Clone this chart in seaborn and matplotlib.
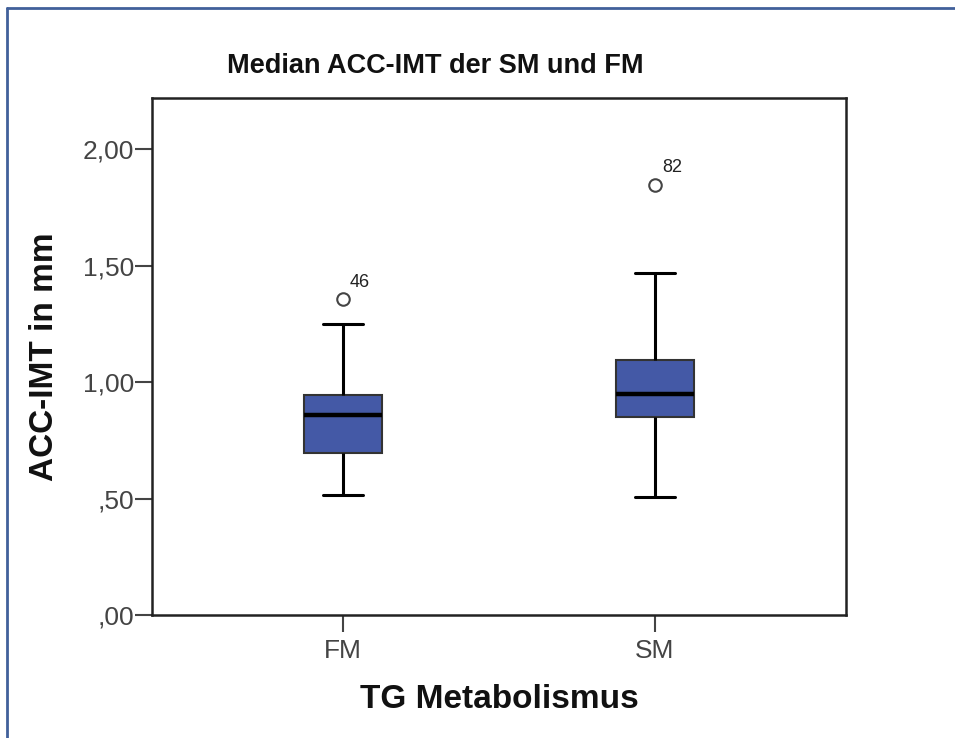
import matplotlib
matplotlib.use("Agg")
import matplotlib.pyplot as plt
from matplotlib.lines import Line2D
import seaborn as sns
import pandas as pd

# ---- data (five-number summaries) ----
groups = ["FM", "SM"]
whisker_low = [0.515, 0.507]
q1 = [0.695, 0.850]
median = [0.860, 0.949]
q3 = [0.944, 1.097]
whisker_high = [1.249, 1.469]
outlier_groups = ["FM", "SM"]
outlier_values = [1.357, 1.848]
outlier_ids = ["46", "82"]
ytick_values = [0.0, 0.5, 1.0, 1.5, 2.0]
ytick_labels = [",00", ",50", "1,00", "1,50", "2,00"]

rows = []
for g, a, b, c, d, e in zip(groups, whisker_low, q1, median, q3, whisker_high):
    for v in (a, b, c, d, e):
        rows.append({"group": g, "value": v})
df = pd.DataFrame(rows)

sns.set_style("ticks")
plt.rcParams["font.family"] = ["Liberation Sans", "DejaVu Sans"]

fig = plt.figure(figsize=(9.55, 7.38), dpi=100)
ax = fig.add_axes([152 / 955, 1 - 615 / 738, (846 - 152) / 955, (615 - 98) / 738])

box_color = "#4459a6"
sns.boxplot(
    data=df, x="group", y="value", order=groups, ax=ax,
    whis=(0, 100), width=0.253, color=box_color, saturation=1,
    linecolor="#222222", linewidth=1.5,
    boxprops=dict(facecolor=box_color, edgecolor="#333333", linewidth=1.5),
    whiskerprops=dict(color="black", linewidth=2.2),
    capprops=dict(color="black", linewidth=2.2),
    medianprops=dict(color="black", linewidth=3.2),
    showfliers=False,
)

sns.stripplot(
    x=outlier_groups, y=outlier_values, order=groups, ax=ax,
    jitter=False, color="white", edgecolor="#444444", linewidth=1.5,
    size=9, marker="o", zorder=5,
)

for g, v, lab in zip(outlier_groups, outlier_values, outlier_ids):
    ax.annotate(lab, xy=(groups.index(g), v), xytext=(5, 6),
                textcoords="offset points", ha="left", va="bottom",
                fontsize=13, color="#222222")

ax.set_xlim(-0.612, 1.612)
ax.set_ylim(0, 2.221)
ax.set_yticks(ytick_values)
ax.set_yticklabels(ytick_labels)
ax.set_xlabel("TG Metabolismus", fontsize=24, fontweight="bold", labelpad=15,
              color="#111111")
ax.set_ylabel("ACC-IMT in mm", fontsize=24, fontweight="bold", labelpad=16,
              color="#111111")
ax.tick_params(axis="both", labelsize=19, labelcolor="#444444",
               color="#444444", width=1.5, length=12)
ax.tick_params(axis="x", pad=5.5)
ax.tick_params(axis="y", pad=1)
for s in ax.spines.values():
    s.set_visible(True)
    s.set_color("#222222")
    s.set_linewidth(1.8)

fig.text(435 / 955, 1 - 66 / 738, "Median ACC-IMT der SM und FM",
         ha="center", va="center", fontsize=19.5, fontweight="bold", color="#111111")

# blue frame around the chart
frame_color = "#41609a"
fig.add_artist(Line2D([7 / 955, 7 / 955], [0, 1 - 8 / 738],
                      transform=fig.transFigure, color=frame_color, linewidth=2))
fig.add_artist(Line2D([7 / 955, 1], [1 - 8 / 738, 1 - 8 / 738],
                      transform=fig.transFigure, color=frame_color, linewidth=2))

fig.savefig("out.png", dpi=100)
